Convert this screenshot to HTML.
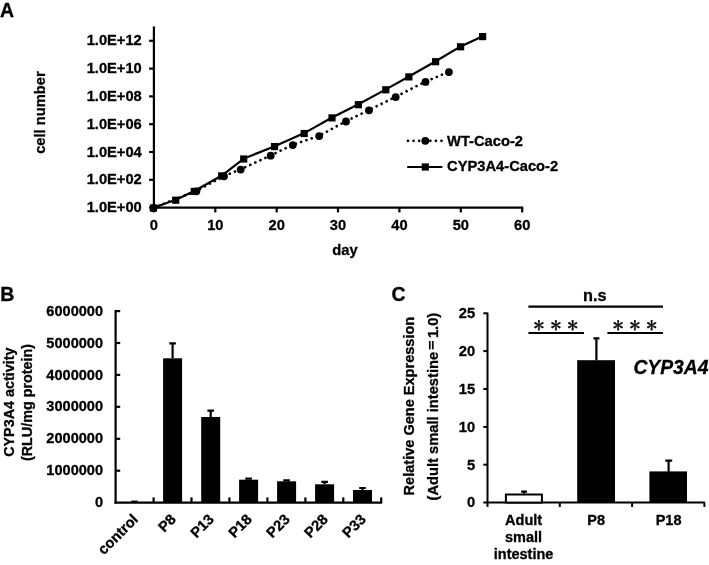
<!DOCTYPE html><html><head><meta charset="utf-8"><title>Figure</title>
<style>html,body{margin:0;padding:0;background:#fff}svg{display:block}text{font-family:"Liberation Sans","IPAGothic",sans-serif;font-weight:bold;fill:#000;stroke:#000;stroke-width:0.3px}.j{font-family:"IPAGothic","Noto Sans CJK JP",sans-serif;font-weight:normal}.k{font-family:"NanumGothic","Noto Sans CJK JP",sans-serif;font-weight:bold;stroke-width:0.2px}</style></head><body>
<svg width="709" height="565" viewBox="0 0 709 565">
<rect width="709" height="565" fill="#fff"/>
<text x="0" y="17" font-size="19.5">A</text>
<text x="0.2" y="301" font-size="19.5">B</text>
<text x="391.5" y="301" font-size="19.5">C</text>
<g stroke="#000" stroke-width="2.2" fill="none">
<path d="M153.9 26.4V208.7"/>
<path d="M152.8 207.6H523.2"/>
<path d="M149.1 40.8H153.9"/>
<path d="M149.1 68.6H153.9"/>
<path d="M149.1 96.4H153.9"/>
<path d="M149.1 124.2H153.9"/>
<path d="M149.1 152.0H153.9"/>
<path d="M149.1 179.8H153.9"/>
<path d="M149.1 207.6H153.9"/>
<path d="M153.9 207.6V212.4"/>
<path d="M215.3 207.6V212.4"/>
<path d="M276.7 207.6V212.4"/>
<path d="M338.0 207.6V212.4"/>
<path d="M399.4 207.6V212.4"/>
<path d="M460.8 207.6V212.4"/>
<path d="M522.2 207.6V212.4"/>
</g>
<text x="141.8" y="45.4" font-size="14.7" text-anchor="end">1.0E+12</text>
<text x="141.8" y="73.2" font-size="14.7" text-anchor="end">1.0E+10</text>
<text x="141.8" y="101.0" font-size="14.7" text-anchor="end">1.0E+08</text>
<text x="141.8" y="128.8" font-size="14.7" text-anchor="end">1.0E+06</text>
<text x="141.8" y="156.6" font-size="14.7" text-anchor="end">1.0E+04</text>
<text x="141.8" y="184.4" font-size="14.7" text-anchor="end">1.0E+02</text>
<text x="141.8" y="212.2" font-size="14.7" text-anchor="end">1.0E+00</text>
<text x="153.9" y="230" font-size="14.7" text-anchor="middle">0</text>
<text x="215.3" y="230" font-size="14.7" text-anchor="middle">10</text>
<text x="276.7" y="230" font-size="14.7" text-anchor="middle">20</text>
<text x="338.0" y="230" font-size="14.7" text-anchor="middle">30</text>
<text x="399.4" y="230" font-size="14.7" text-anchor="middle">40</text>
<text x="460.8" y="230" font-size="14.7" text-anchor="middle">50</text>
<text x="522.2" y="230" font-size="14.7" text-anchor="middle">60</text>
<text x="345" y="254.6" font-size="14.7" text-anchor="middle">day</text>
<text transform="translate(44.8 112.6) rotate(-90)" font-size="14.7" text-anchor="middle">cell number</text>
<polyline points="153.5,207.7 196.4,191.0 224.0,176.0 240.7,169.3 270.7,155.4 292.8,144.8 319.2,135.8 346.0,121.2 369.0,110.0 395.7,96.8 425.5,81.6 448.9,71.8" fill="none" stroke="#000" stroke-width="2.7" stroke-linecap="round" stroke-dasharray="0.01 5.57"/>
<polyline points="153.5,207.7 175.8,199.8 194.4,191.0 221.8,175.5 243.8,158.6 274.7,146.2 304.3,133.1 332.1,117.5 358.5,104.3 385.9,89.4 409.0,76.5 435.7,61.3 460.7,46.4 482.7,36.2" fill="none" stroke="#000" stroke-width="2.2"/>
<circle cx="153.5" cy="208.0" r="3.9"/>
<circle cx="196.4" cy="191.3" r="3.9"/>
<circle cx="224.0" cy="176.3" r="3.9"/>
<circle cx="240.7" cy="169.6" r="3.9"/>
<circle cx="270.7" cy="155.7" r="3.9"/>
<circle cx="292.8" cy="145.1" r="3.9"/>
<circle cx="319.2" cy="136.1" r="3.9"/>
<circle cx="346.0" cy="121.5" r="3.9"/>
<circle cx="369.0" cy="110.3" r="3.9"/>
<circle cx="395.7" cy="97.1" r="3.9"/>
<circle cx="425.5" cy="81.9" r="3.9"/>
<circle cx="448.9" cy="72.1" r="3.9"/>
<rect x="149.8" y="204.5" width="7.2" height="7.2"/>
<rect x="172.1" y="196.6" width="7.2" height="7.2"/>
<rect x="190.7" y="187.8" width="7.2" height="7.2"/>
<rect x="218.1" y="172.3" width="7.2" height="7.2"/>
<rect x="240.1" y="155.4" width="7.2" height="7.2"/>
<rect x="271.0" y="143.0" width="7.2" height="7.2"/>
<rect x="300.6" y="129.9" width="7.2" height="7.2"/>
<rect x="328.4" y="114.3" width="7.2" height="7.2"/>
<rect x="354.8" y="101.1" width="7.2" height="7.2"/>
<rect x="382.2" y="86.2" width="7.2" height="7.2"/>
<rect x="405.3" y="73.3" width="7.2" height="7.2"/>
<rect x="432.0" y="58.1" width="7.2" height="7.2"/>
<rect x="457.0" y="43.2" width="7.2" height="7.2"/>
<rect x="479.0" y="33.0" width="7.2" height="7.2"/>
<path d="M408 140.8H442.4" stroke="#000" stroke-width="2.7" stroke-linecap="round" stroke-dasharray="0.01 5.57" fill="none"/>
<circle cx="425.3" cy="140.8" r="3.9"/>
<text x="447.1" y="146" font-size="14.7">WT-Caco-2</text>
<path d="M407.2 167H442.4" stroke="#000" stroke-width="2.2" fill="none"/>
<rect x="421.7" y="163.4" width="7.2" height="7.2"/>
<text x="447.1" y="171.4" font-size="14.7">CYP3A4-Caco-2</text>
<g stroke="#000" stroke-width="2.2" fill="none">
<path d="M115.6 310V503.70000000000005"/>
<path d="M114.5 502.6H382.2"/>
<path d="M115.6 470.7H120.19999999999999"/>
<path d="M115.6 438.8H120.19999999999999"/>
<path d="M115.6 406.8H120.19999999999999"/>
<path d="M115.6 374.9H120.19999999999999"/>
<path d="M115.6 343.0H120.19999999999999"/>
<path d="M115.6 311.1H120.19999999999999"/>
<path d="M153.6 502.6V497.40000000000003"/>
<path d="M191.5 502.6V497.40000000000003"/>
<path d="M229.4 502.6V497.40000000000003"/>
<path d="M267.4 502.6V497.40000000000003"/>
<path d="M305.4 502.6V497.40000000000003"/>
<path d="M343.3 502.6V497.40000000000003"/>
<path d="M381.2 502.6V497.40000000000003"/>
</g>
<text x="103" y="507.2" font-size="14.55" text-anchor="end">0</text>
<text x="103" y="475.3" font-size="14.55" text-anchor="end">1000000</text>
<text x="103" y="443.4" font-size="14.55" text-anchor="end">2000000</text>
<text x="103" y="411.4" font-size="14.55" text-anchor="end">3000000</text>
<text x="103" y="379.5" font-size="14.55" text-anchor="end">4000000</text>
<text x="103" y="347.6" font-size="14.55" text-anchor="end">5000000</text>
<text x="103" y="315.7" font-size="14.55" text-anchor="end">6000000</text>
<rect x="131.2" y="500.6" width="6.4" height="1.5"/>
<rect x="163.1" y="358.3" width="19" height="144.3"/>
<path d="M172.6 358.3V343.4M169.29999999999998 343.4H175.9" stroke="#000" stroke-width="2.2" fill="none"/>
<rect x="201.2" y="417.0" width="19" height="85.6"/>
<path d="M210.7 417.0V410.6M207.39999999999998 410.6H214.0" stroke="#000" stroke-width="2.2" fill="none"/>
<rect x="239.1" y="479.7" width="19" height="22.9"/>
<path d="M248.6 479.7V478.7M245.29999999999998 478.7H251.9" stroke="#000" stroke-width="2.2" fill="none"/>
<rect x="277.1" y="481.3" width="19" height="21.3"/>
<path d="M286.6 481.3V480.4M283.3 480.4H289.90000000000003" stroke="#000" stroke-width="2.2" fill="none"/>
<rect x="315.1" y="484.3" width="19" height="18.3"/>
<path d="M324.6 484.3V481.8M321.3 481.8H327.90000000000003" stroke="#000" stroke-width="2.2" fill="none"/>
<rect x="353.0" y="490.0" width="19" height="12.6"/>
<path d="M362.5 490.0V488.0M359.2 488.0H365.8" stroke="#000" stroke-width="2.2" fill="none"/>
<text transform="translate(139.0 520.3) rotate(-45)" font-size="14.7" text-anchor="end">control</text>
<text transform="translate(176.9 520.3) rotate(-45)" font-size="14.7" text-anchor="end">P8</text>
<text transform="translate(214.9 520.3) rotate(-45)" font-size="14.7" text-anchor="end">P13</text>
<text transform="translate(252.9 520.3) rotate(-45)" font-size="14.7" text-anchor="end">P18</text>
<text transform="translate(290.8 520.3) rotate(-45)" font-size="14.7" text-anchor="end">P23</text>
<text transform="translate(328.8 520.3) rotate(-45)" font-size="14.7" text-anchor="end">P28</text>
<text transform="translate(366.7 520.3) rotate(-45)" font-size="14.7" text-anchor="end">P33</text>
<text transform="translate(14.2 402.2) rotate(-90)" font-size="14.35" text-anchor="middle">CYP3A4 activity</text>
<text transform="translate(31.5 402.5) rotate(-90)" font-size="14.35" text-anchor="middle">(RLU/mg protein)</text>
<g stroke="#000" stroke-width="2" fill="none">
<path d="M487.5 312.6V506.95"/>
<path d="M483.3 502.55H704.9"/>
<path d="M483.3 464.7H487.5"/>
<path d="M483.3 426.9H487.5"/>
<path d="M483.3 389.0H487.5"/>
<path d="M483.3 351.1H487.5"/>
<path d="M483.3 313.3H487.5"/>
<path d="M559.8 502.55V506.95"/>
<path d="M632.1 502.55V506.95"/>
<path d="M704.4 502.55V506.95"/>
</g>
<text x="475.2" y="507.4" font-size="14.7" text-anchor="end">0</text>
<text x="475.2" y="469.5" font-size="14.7" text-anchor="end">5</text>
<text x="475.2" y="431.7" font-size="14.7" text-anchor="end">10</text>
<text x="475.2" y="393.8" font-size="14.7" text-anchor="end">15</text>
<text x="475.2" y="355.9" font-size="14.7" text-anchor="end">20</text>
<text x="475.2" y="318.1" font-size="14.7" text-anchor="end">25</text>
<rect x="505.9" y="494.5" width="36" height="8.1" fill="#fff" stroke="#000" stroke-width="2"/>
<path d="M524 493.6V491.6M521.2 491.6H527" stroke="#000" stroke-width="2.2" fill="none"/>
<rect x="577.2" y="360.2" width="37.8" height="142.4"/>
<path d="M596.4 360.2V338.4M593.4 338.4H599.4" stroke="#000" stroke-width="2.2" fill="none"/>
<rect x="649.4" y="471.4" width="37.6" height="31.2"/>
<path d="M668.6 472V460.7M665.2 460.7H672.2" stroke="#000" stroke-width="2.2" fill="none"/>
<text x="523.6" y="525.1" font-size="14.5" text-anchor="middle">Adult</text>
<text x="523.6" y="542" font-size="14.5" text-anchor="middle">small</text>
<text x="523.6" y="559" font-size="14.5" text-anchor="middle">intestine</text>
<text x="596.2" y="525.1" font-size="14.5" text-anchor="middle">P8</text>
<text x="668.6" y="525.1" font-size="14.5" text-anchor="middle">P18</text>
<text transform="translate(414.3 406.1) rotate(-90)" font-size="14.55" text-anchor="middle">Relative Gene Expression</text>
<text transform="translate(437.6 406.6) rotate(-90)" font-size="14.7" text-anchor="middle">(Adult small intestine<tspan class="k" dy="-0.5">＝</tspan><tspan dy="0.5">1.0)</tspan></text>
<g stroke="#000" stroke-width="2.2" fill="none"><path d="M528.4 306.6H663"/><path d="M528.4 333H584"/><path d="M607.4 333H663"/></g>
<text x="594.8" y="301.2" font-size="16.3" text-anchor="middle">n.s</text>
<text class="j" x="538.8" y="330.8" font-size="15.3" stroke-width="0.8" text-anchor="middle">＊</text>
<text class="j" x="555.8" y="330.8" font-size="15.3" stroke-width="0.8" text-anchor="middle">＊</text>
<text class="j" x="572.6" y="330.8" font-size="15.3" stroke-width="0.8" text-anchor="middle">＊</text>
<text class="j" x="618.1" y="330.8" font-size="15.3" stroke-width="0.8" text-anchor="middle">＊</text>
<text class="j" x="634.9" y="330.8" font-size="15.3" stroke-width="0.8" text-anchor="middle">＊</text>
<text class="j" x="651.7" y="330.8" font-size="15.3" stroke-width="0.8" text-anchor="middle">＊</text>
<text x="633.4" y="374.3" font-size="19.3" font-style="italic">CYP3A4</text>
</svg></body></html>
